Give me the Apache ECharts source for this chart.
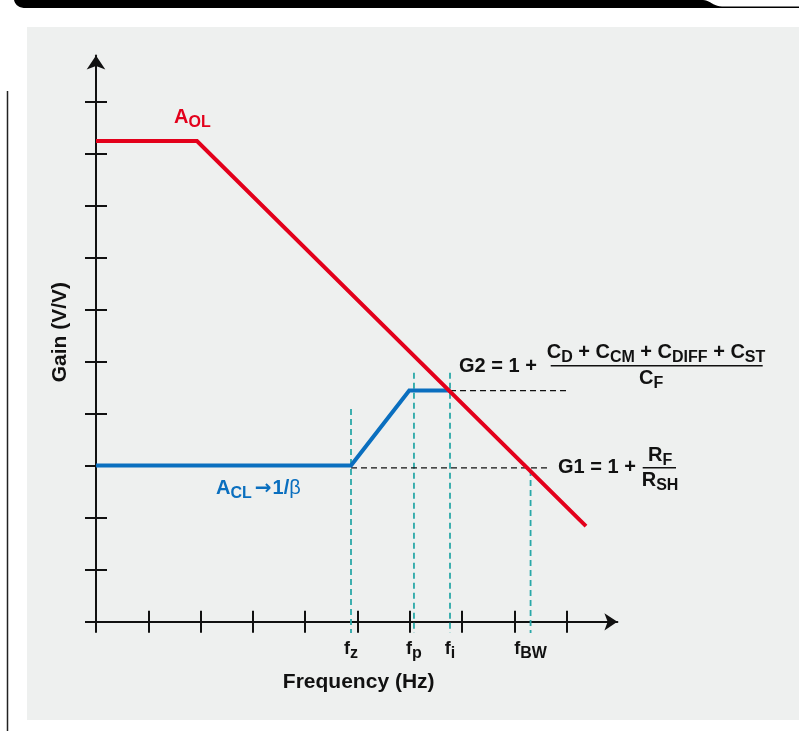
<!DOCTYPE html>
<html><head><meta charset="utf-8">
<script src="https://cdn.jsdelivr.net/npm/echarts@6/dist/echarts.min.js"></script>
<style>html,body{margin:0;padding:0;background:#fff}#c{width:799px;height:731px}</style>
</head><body><div id="c"></div><script>
// ---- data ----
const xTicks = [0, 1, 2, 3, 4, 5, 6, 7, 8, 9];
const yTicks = [0, 1, 2, 3, 4, 5, 6, 7, 8, 9, 10];
const freqMarks = [4.876, 6.08, 6.769, 8.31];      // fz, fp, fi, fBW
const freqSubs = ['z', 'p', 'i', 'BW'];
const dashTops = [4.09, 4.79, 4.79, 2.92];
const dashBottom = -0.217;
const aolLine = [[0, 9.244], [1.931, 9.244], [9.369, 1.84]];
const aclLine = [[0, 3.004], [4.876, 3.004], [5.99, 4.446], [6.769, 4.446]];
const g2Dash = [[6.769, 4.446], [9.06, 4.446]];
const g1Dash = [[4.876, 2.96], [8.68, 2.96]];

const FONT = '"Liberation Sans", Arial, sans-serif';
const RED = '#e3001b', BLUE = '#0a6fbf', TEAL = '#2aa8a8', INK = '#111';

function richStyles(color) {
  return {
    m: {fontSize: 20, fontWeight: 'bold', fontFamily: FONT, lineHeight: 26, fill: color, color: color},
    s: {fontSize: 16, fontWeight: 'bold', fontFamily: FONT, lineHeight: 16, padding: [10, 0, 0, 0], fill: color, color: color},
    a: {fontSize: 20, fontWeight: 'bold', fontFamily: '"DejaVu Sans", sans-serif', lineHeight: 26, padding: [0, 1, 0, 3], fill: color, color: color},
    b: {fontSize: 20, fontWeight: 'normal', fontFamily: FONT, lineHeight: 26, fill: color, color: color}
  };
}
function txt(x, y, text, color) {
  return {type: 'text', x: x, y: y, silent: true, z: 10,
    style: {text: text, rich: richStyles(color), fill: color, align: 'left', verticalAlign: 'middle',
      textAlign: 'left', textVerticalAlign: 'middle'}};
}
function hline(x1, x2, y) {
  return {type: 'line', silent: true, z: 10, shape: {x1: x1, y1: y, x2: x2, y2: y},
    style: {stroke: INK, lineWidth: 1.5}};
}
// decorative header tab outline (page frame, not data)
function tabPoints() {
  const pts = [[14, 0], [703, 0]];
  for (let k = 1; k <= 10; k++) {
    const t = k / 10, u = 1 - t;
    pts.push([u*u*u*703 + 3*u*u*t*710 + 3*u*t*t*713 + t*t*t*722, 3*u*t*t*6.5 + t*t*t*6.5]);
  }
  pts.push([799, 6.5], [799, 8], [26, 8]);
  for (let k = 1; k <= 8; k++) {
    const t = k / 8, u = 1 - t;
    pts.push([u*u*26 + 2*u*t*16 + t*t*14, u*u*8 + 2*u*t*8 + t*t*0]);
  }
  return pts;
}

const series = [];
freqMarks.forEach((f, i) => {
  series.push({type: 'line', data: [[f, dashTops[i]], [f, dashBottom]], symbol: 'none', clip: false,
    silent: true, z: 1, lineStyle: {color: TEAL, width: 1.8, type: [6, 4]}});
});
[g2Dash, g1Dash].forEach(d => series.push({type: 'line', data: d, symbol: 'none', clip: false, silent: true, z: 1,
  lineStyle: {color: INK, width: 1.4, type: [6, 4]}}));
series.push({type: 'line', data: aclLine, symbol: 'none', clip: false, silent: true, z: 3,
  lineStyle: {color: BLUE, width: 4, cap: 'butt', join: 'miter'}});
series.push({type: 'line', data: aolLine, symbol: 'none', clip: false, silent: true, z: 4,
  lineStyle: {color: RED, width: 4, cap: 'butt', join: 'miter'}});

const axisBase = {type: 'value', min: 0, max: 9.97, position: 'bottom', splitLine: {show: false}};
const tickStyle = {color: INK, width: 2};

const option = {
  animation: false,
  backgroundColor: '#ffffff',
  grid: {left: 96, top: 55.5, width: 521.4, height: 566.3, containLabel: false, outerBoundsMode: 'none'},
  xAxis: [
    Object.assign({}, axisBase, {
      axisLine: {show: true, onZero: false, symbol: ['none', 'arrow'], symbolSize: [13, 13], lineStyle: {color: INK, width: 2}},
      axisTick: {show: true, customValues: xTicks, length: 11, inside: false, lineStyle: tickStyle},
      axisLabel: {show: false},
      name: 'Frequency (Hz)', nameLocation: 'middle', nameGap: 50,
      nameTextStyle: {fontSize: 21, fontWeight: 'bold', fontFamily: FONT, color: INK, padding: [0, 0, 0, 4]}
    }),
    Object.assign({}, axisBase, {
      axisLine: {show: false, onZero: false},
      axisTick: {show: true, customValues: xTicks, length: 11, inside: true, lineStyle: tickStyle},
      axisLabel: {show: false}
    }),
    Object.assign({}, axisBase, {
      axisLine: {show: false, onZero: false},
      axisTick: {show: false},
      axisLabel: {show: true, customValues: freqMarks, margin: 14,
        formatter: (v, i) => {
          const k = freqMarks.indexOf(v);
          return '{f|f}{s|' + freqSubs[k >= 0 ? k : i] + '}';
        },
        rich: {
          f: {fontSize: 18, fontWeight: 'bold', fontFamily: FONT, lineHeight: 26, color: INK},
          s: {fontSize: 16, fontWeight: 'bold', fontFamily: FONT, lineHeight: 16, padding: [10, 0, 0, 0], color: INK}
        }}
    })
  ],
  yAxis: [
    {type: 'value', min: 0, max: 10.89, position: 'left', splitLine: {show: false},
      axisLine: {show: true, onZero: false, symbol: ['none', 'arrow'], symbolSize: [14, 14], lineStyle: {color: INK, width: 2}},
      axisTick: {show: true, customValues: yTicks, length: 11, inside: false, lineStyle: tickStyle},
      axisLabel: {show: false},
      name: 'Gain (V/V)', nameLocation: 'middle', nameGap: 25,
      nameTextStyle: {fontSize: 21, fontWeight: 'bold', fontFamily: FONT, color: INK, padding: [0, 0, 0, 13]}
    },
    {type: 'value', min: 0, max: 10.89, position: 'left', splitLine: {show: false},
      axisLine: {show: false, onZero: false},
      axisTick: {show: true, customValues: yTicks, length: 11, inside: true, lineStyle: tickStyle},
      axisLabel: {show: false}
    }
  ],
  series: series,
  graphic: [
    {type: 'rect', silent: true, z: -100, shape: {x: 27, y: 27, width: 772, height: 693}, style: {fill: '#eef0ef'}},
    {type: 'polygon', silent: true, z: -99, shape: {points: tabPoints()}, style: {fill: '#000'}},
    {type: 'line', silent: true, z: -99, shape: {x1: 7.5, y1: 91, x2: 7.5, y2: 731}, style: {stroke: '#222', lineWidth: 1.5}},
    txt(174, 117.4, '{m|A}{s|OL}', RED),
    txt(216, 488.4, '{m|A}{s|CL}{a|→}{m|1/}{b|β}', BLUE),
    txt(459, 366.1, '{m|G2 = 1 +}', INK),
    txt(546.7, 352.7, '{m|C}{s|D}{m| + C}{s|CM}{m| + C}{s|DIFF}{m| + C}{s|ST}', INK),
    hline(550.7, 762.7, 365.7),
    txt(639, 378.4, '{m|C}{s|F}', INK),
    txt(558, 467.4, '{m|G1 = 1 +}', INK),
    hline(642.7, 676, 467.7),
    txt(648, 455.1, '{m|R}{s|F}', INK),
    txt(641.7, 480.1, '{m|R}{s|SH}', INK)
  ]
};
const chart = echarts.init(document.getElementById('c'), null, {renderer: 'canvas'});
chart.setOption(option);
</script></body></html>
